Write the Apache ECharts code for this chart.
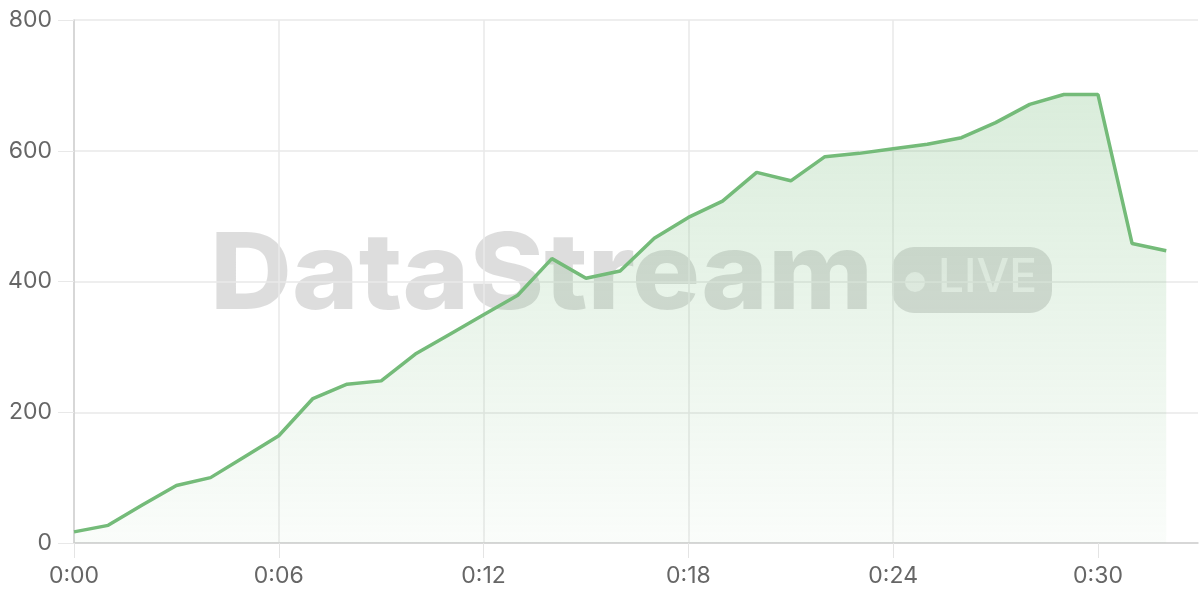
<!DOCTYPE html>
<html>
<head>
<meta charset="utf-8">
<style>
html,body{margin:0;padding:0;background:#fff;}
#chart{width:1200px;height:600px;}
</style>
<script src="https://cdn.jsdelivr.net/npm/echarts@6/dist/echarts.min.js"></script>
</head>
<body>
<div id="chart"></div>
<script>
// minutes since start
const minutes = [0,1,2,3,4,5,6,7,8,9,10,11,12,13,14,15,16,17,18,19,20,21,22,23,24,25,26,27,28,29,30,31,32];
const values  = [17,27,58,88,100,132,164,221,243,248,289,319,349,379,435,405,416,466,498,523,567,554,591,596,603,610,620,643,671,686,686,458,447];
const xTicks = [0,6,12,18,24,30];
const yTicks = [0,200,400,600,800];

const chart = echarts.init(document.getElementById('chart'));
const pad = n => (n < 10 ? '0' : '') + n;
const option = {
  animation: false,
  grid: {left: 74, right: 2, top: 20, bottom: 57},
  graphic: [
    {type: 'text', x: 210, y: 224, scaleX: 1.07, z: -1, silent: true,
     style: {text: 'DataStream', fontFamily: 'Inter', fontWeight: 800, fontSize: 106, fill: 'rgba(0,0,0,0.135)'}},
    {type: 'rect', left: 892, top: 247, z: -1, silent: true,
     shape: {width: 160, height: 66, r: 22}, style: {fill: 'rgba(0,0,0,0.135)'}},
    {type: 'circle', left: 905, top: 272, z: -1, silent: true,
     shape: {r: 10}, style: {fill: 'rgba(255,255,255,0.6)'}},
    {type: 'text', left: 938, top: 255, z: -1, silent: true,
     style: {text: 'LIVE', fontFamily: 'Inter', fontWeight: 500, fontSize: 46, fill: 'rgba(255,255,255,0.6)'}}
  ],
  xAxis: {
    type: 'value', min: 0, max: 32.93, interval: 6,
    axisLine: {show: true, lineStyle: {color: '#cfcfcf', width: 1.5}},
    axisTick: {show: true, length: 15, lineStyle: {color: '#e4e4e4'}, customValues: xTicks},
    axisLabel: {color: '#666', fontFamily: 'Inter', fontSize: 23, margin: 22, customValues: xTicks,
      formatter: v => '0:' + pad(v)},
    splitLine: {show: true, showMaxLine: false, lineStyle: {color: '#e8e8e8', width: 1.5}}
  },
  yAxis: {
    type: 'value', min: 0, max: 800, interval: 200,
    axisLine: {show: true, lineStyle: {color: '#cfcfcf', width: 1.5}},
    axisTick: {show: true, length: 16, lineStyle: {color: '#e8e8e8'}},
    axisLabel: {color: '#666', fontFamily: 'Inter', fontSize: 23, margin: 22},
    splitLine: {show: true, lineStyle: {color: '#e8e8e8', width: 1.5}}
  },
  series: [{
    type: 'line',
    data: minutes.map((m, i) => [m, values[i]]),
    showSymbol: false,
    lineStyle: {color: '#74bb79', width: 3.5},
    itemStyle: {color: '#74bb79'},
    areaStyle: {
      color: new echarts.graphic.LinearGradient(0, 0, 0, 1, [
        {offset: 0, color: 'rgba(116,187,121,0.38)'},
        {offset: 1, color: 'rgba(116,187,121,0.05)'}
      ])
    }
  }]
};
chart.setOption(option);
</script>
</body>
</html>
